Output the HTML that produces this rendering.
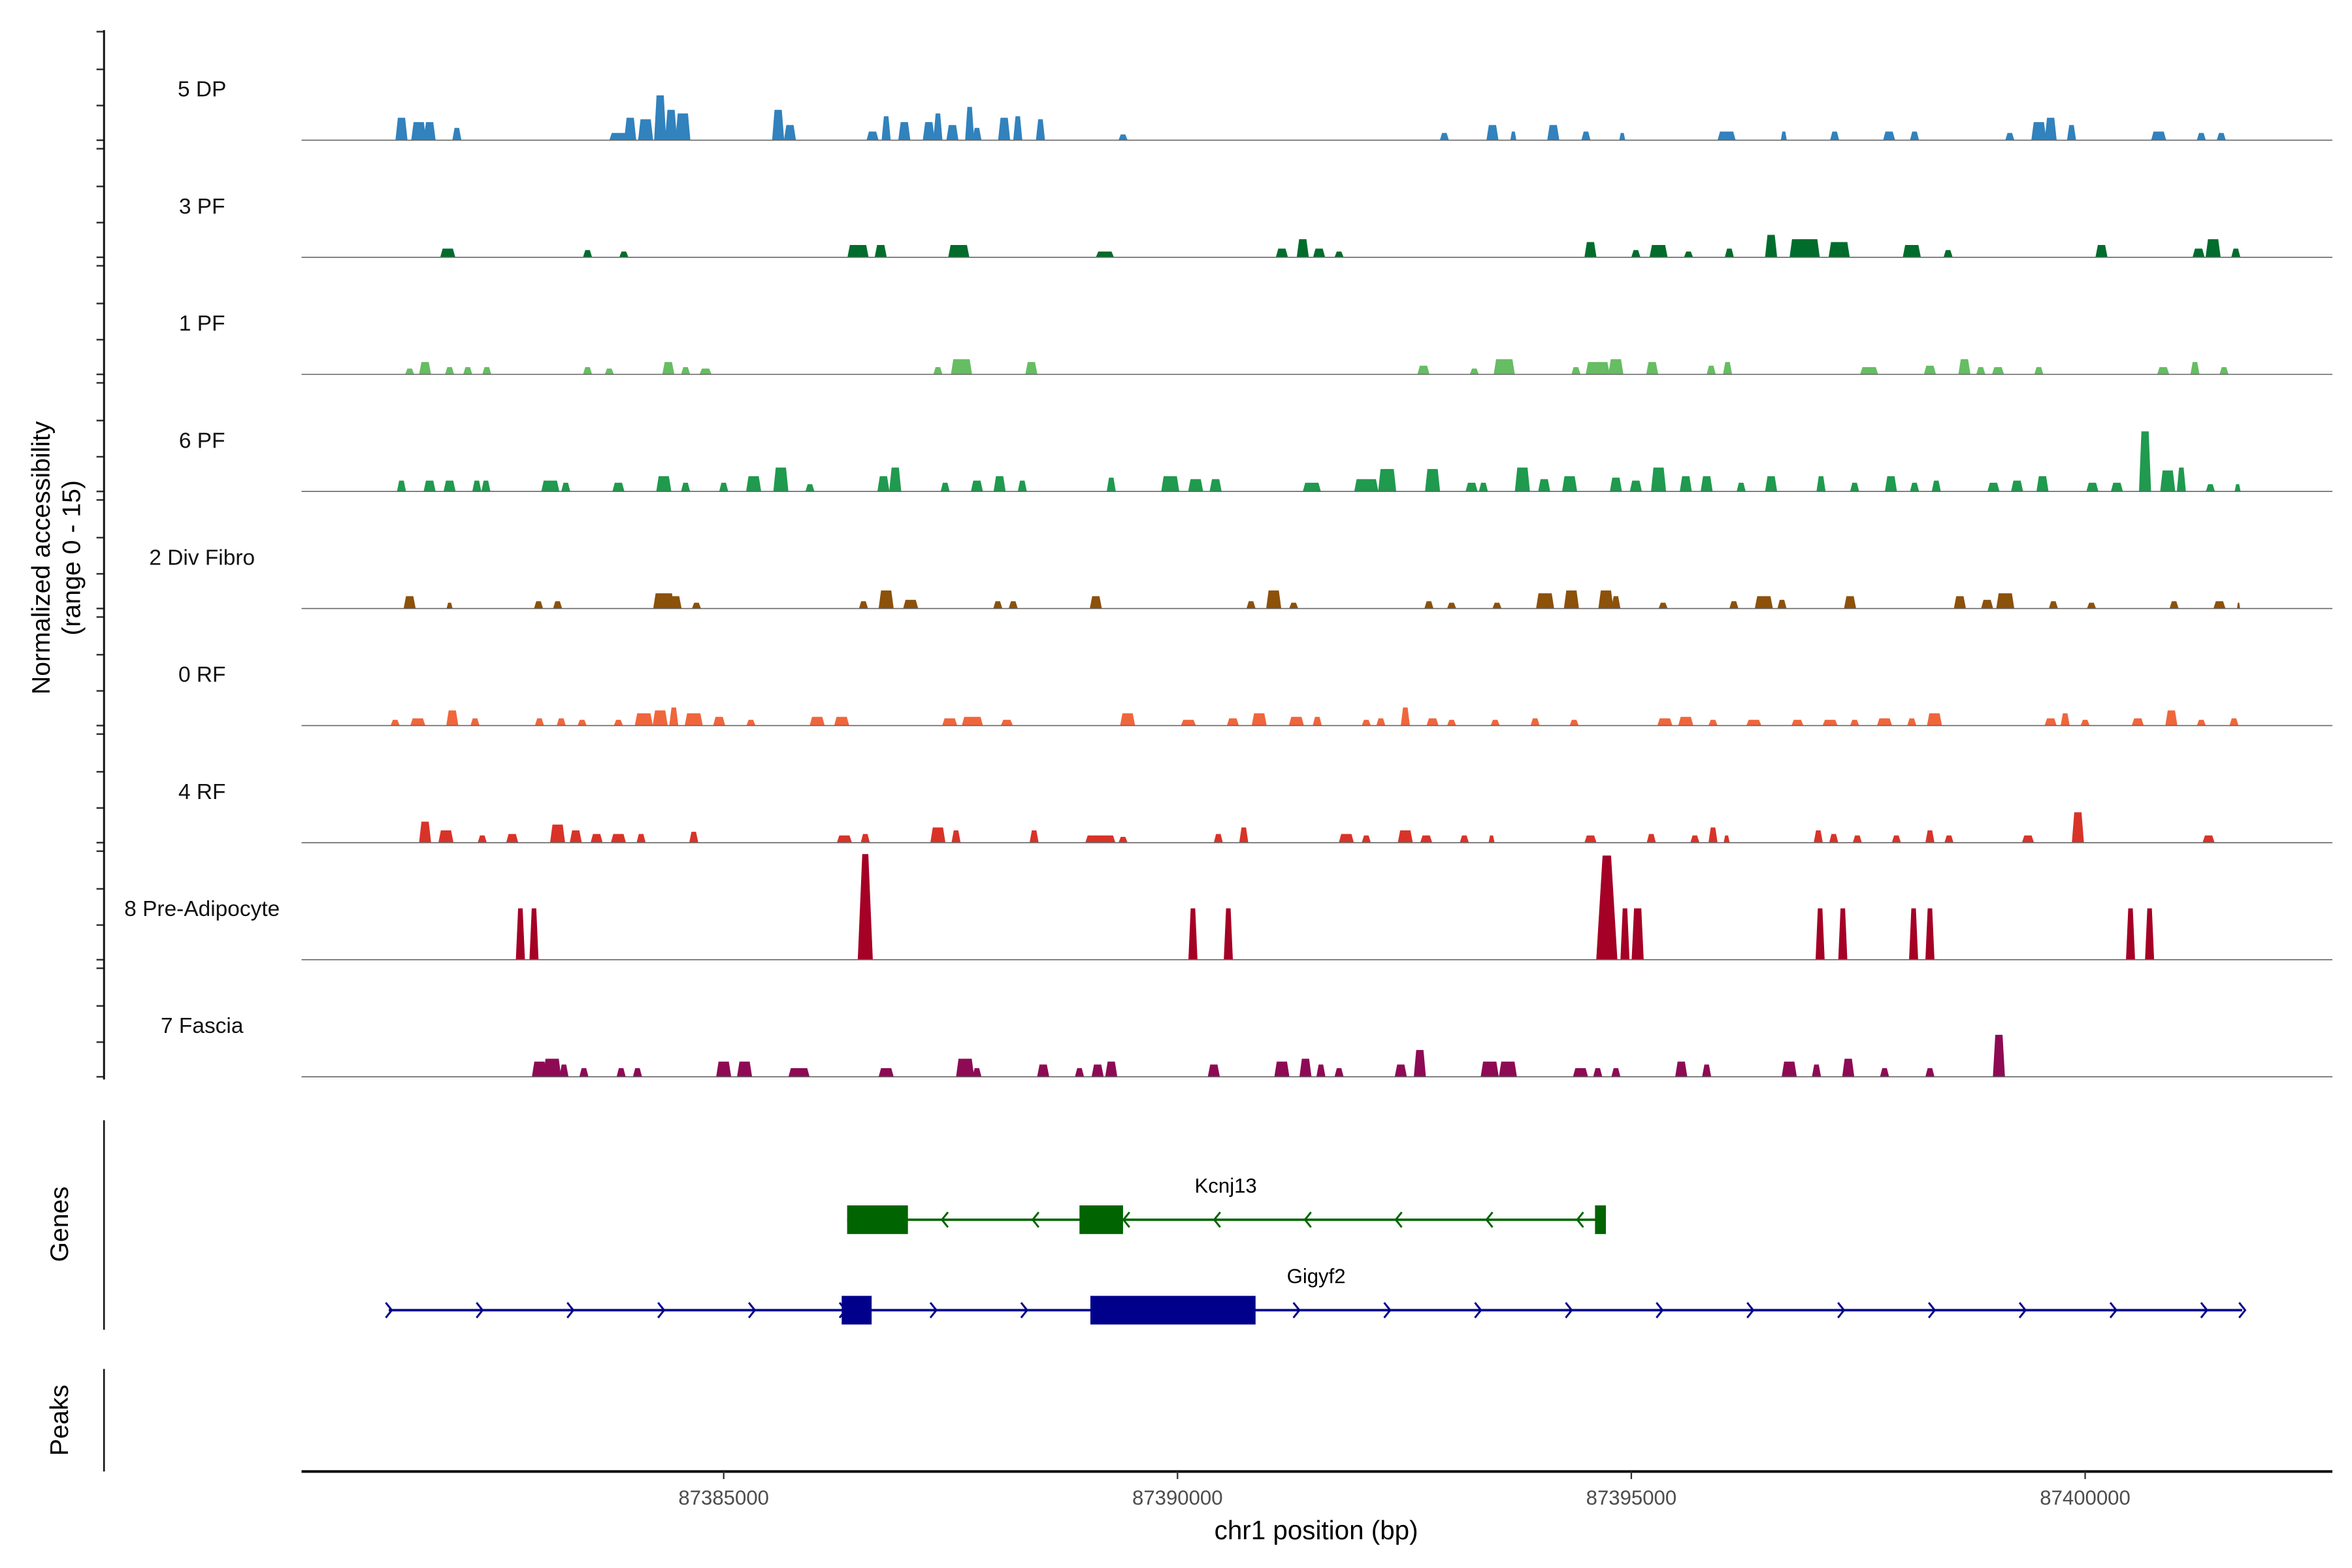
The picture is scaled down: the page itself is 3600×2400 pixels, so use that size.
<!DOCTYPE html>
<html><head><meta charset="utf-8"><style>
html,body{margin:0;padding:0;background:#fff;}
svg{display:block;font-family:"Liberation Sans",Arial,sans-serif;}
</style></head><body>
<svg id="chart" width="3600" height="2400" viewBox="0 0 1560 1040" xmlns="http://www.w3.org/2000/svg">
<g id="tracks"></g>
<g id="genes"></g>
<g id="axes"></g>
</svg>
<script>
// positions: kb offset from 87380000; widths: bp; heights: normalized accessibility (0-15)
const ORIGIN_BP = 87380000;
const trackNames = ["5 DP","3 PF","1 PF","6 PF","2 Div Fibro","0 RF","4 RF","8 Pre-Adipocyte","7 Fascia"];
const trackColors = ["#3182bd","#006d2c","#66bd63","#1f9a4e","#8c510a","#f0663c","#d93328","#a50026","#8e0a55"];

const dpPos = [1.45,1.64,1.76,2.06,3.84,3.97,4.14,4.30,4.42,4.55,5.60,5.73,6.64,6.79,6.99,7.26,7.36,7.52,7.71,7.79,8.09,8.24,8.49,9.40,12.94,13.47,13.70,14.14,14.50,14.90,16.05,16.68,17.24,17.84,18.12,19.17,19.49,19.62,19.85,20.81,21.28,21.50];
const dpWid = [133,166,133,100,199,133,166,133,133,166,133,133,133,100,133,133,100,133,100,100,133,100,100,100,100,133,66,133,100,66,199,66,100,133,100,100,166,133,100,166,100,100];
const dpVal = [3.1,2.5,2.5,1.7,1,3.1,2.9,6.2,4.2,3.7,4.2,2.1,1.2,3.3,2.5,2.5,3.7,2.1,4.6,1.7,3.1,3.3,2.9,0.8,1,2.1,1.2,2.1,1.2,1,1.2,1.2,1.2,1.2,1.2,1,2.5,3.1,2.1,1.2,1,1];

const pf3Pos = [1.96,3.50,3.90,6.48,6.73,7.59,9.20,11.15,11.38,11.56,11.78,14.55,15.05,15.30,15.63,16.08,16.54,16.91,17.29,18.09,18.49,20.18,21.25,21.41,21.66];
const pf3Wid = [166,100,100,233,133,233,199,133,133,133,100,133,100,199,100,100,133,332,233,199,100,133,133,166,100];
const pf3Val = [1.2,1,0.8,1.7,1.7,1.7,0.8,1.2,2.5,1.2,0.8,2.1,1,1.7,0.8,1.2,3.1,2.5,2.1,1.7,1,1.7,1.2,2.5,1.2];

const pf1Pos = [1.54,1.71,1.98,2.18,2.39,3.50,3.74,4.39,4.58,4.80,7.36,7.62,8.39,12.71,13.27,13.60,14.39,14.63,14.83,15.23,15.88,16.06,17.62,18.29,18.67,18.85,19.04,19.49,20.86,21.21,21.53];
const pf1Wid = [100,133,100,100,100,100,100,133,100,133,100,233,133,133,100,233,100,266,166,133,100,100,199,133,133,100,133,100,133,100,100];
const pf1Val = [0.8,1.7,1,1,1,1,0.8,1.7,1,0.8,1,2.1,1.7,1.2,0.8,2.1,1,1.7,2.1,1.7,1.2,1.7,1,1.2,2.1,1,1,1,1,1.7,1];

const pf6Pos = [1.45,1.76,1.98,2.28,2.38,3.09,3.26,3.84,4.34,4.58,5.00,5.33,5.63,5.95,6.76,6.89,7.44,7.79,8.04,8.29,9.27,9.92,10.20,10.42,11.48,12.08,12.31,12.81,13.24,13.37,13.80,14.04,14.32,14.83,15.05,15.30,15.60,15.83,16.21,16.54,17.09,17.46,17.86,18.12,18.36,18.99,19.25,19.53,20.08,20.35,20.66,20.91,21.06,21.38,21.68];
const pf6Wid = [100,133,133,100,100,199,100,133,166,100,100,166,166,100,133,133,100,133,133,100,100,199,166,133,199,266,199,166,133,100,166,133,166,133,133,166,133,133,100,133,100,100,133,100,100,133,133,133,133,133,133,166,100,100,66];
const pf6Val = [1.5,1.5,1.5,1.5,1.5,1.5,1.2,1.2,2.1,1.2,1.2,2.1,3.3,1,2.1,3.3,1.2,1.5,2.1,1.5,1.9,2.1,1.7,1.7,1.2,1.7,3.1,3.1,1.2,1.2,3.3,1.7,2.1,1.9,1.5,3.3,2.1,2.1,1.2,2.1,2.1,1.2,2.1,1.2,1.5,1.2,1.5,2.1,1.2,1.2,8.3,2.9,3.3,1,1];

const dfPos = [1.54,1.98,2.96,3.17,4.34,4.47,4.70,6.54,6.79,7.06,8.02,8.19,9.10,10.81,11.06,11.28,12.77,13.02,13.52,14.05,14.34,14.72,14.83,15.35,16.13,16.46,16.66,17.41,18.62,18.92,19.12,19.65,20.07,20.98,21.48,21.69];
const dfWid = [133,66,100,100,233,133,100,100,166,166,100,100,133,100,166,100,100,100,100,199,166,166,100,100,100,199,100,133,133,133,199,100,100,100,133,33];
const dfVal = [1.7,0.8,1,1,2.1,1.7,0.8,1,2.5,1.2,1,1,1.7,1,2.5,0.8,1,0.8,0.8,2.1,2.5,2.5,1.7,0.8,1,1.7,1.2,1.7,1.7,1.2,2.1,1,0.8,1,1,0.8];

const rf0Pos = [1.38,1.63,2.01,2.26,2.97,3.21,3.44,3.84,4.12,4.30,4.45,4.67,4.95,5.30,6.03,6.30,7.49,7.74,8.12,9.45,10.12,10.61,10.90,11.31,11.54,12.08,12.24,12.51,12.81,13.02,13.50,13.94,14.37,15.37,15.60,15.90,16.35,16.83,17.19,17.46,17.79,18.09,18.34,19.62,19.78,20.00,20.58,20.95,21.28,21.64];
const rf0Wid = [100,166,133,100,100,100,100,100,199,166,100,199,133,100,166,166,166,233,133,166,166,133,166,166,100,100,100,100,133,100,100,100,100,166,166,100,166,133,166,100,166,100,166,133,100,100,133,133,100,100];
const rf0Val = [0.8,1,2.1,1,1,1,0.8,0.8,1.7,2.1,2.5,1.7,1.2,0.8,1.2,1.2,1,1.2,0.8,1.7,0.8,1,1.7,1.2,1.2,0.8,1,2.5,1,0.8,0.8,1,0.8,1,1.2,0.8,0.8,0.8,0.8,0.8,1,1,1.7,1,1.7,0.8,1,2.1,0.8,1];

const rf4Pos = [1.71,1.94,2.34,2.67,3.17,3.37,3.60,3.84,4.09,4.67,6.33,6.56,7.36,7.56,8.42,9.15,9.40,10.45,10.73,11.86,12.08,12.51,12.74,13.16,13.46,14.55,15.22,15.70,15.90,16.05,17.06,17.23,17.49,17.92,18.29,18.50,19.37,19.92,21.36];
const rf4Wid = [133,166,100,133,166,133,133,166,100,100,166,100,166,100,100,332,100,100,100,166,100,166,133,100,66,133,100,100,100,66,100,100,100,100,100,100,133,133,133];
const rf4Val = [2.9,1.7,1,1.2,2.5,1.7,1.2,1.2,1.2,1.5,1,1.2,2.1,1.7,1.7,1,0.8,1.2,2.1,1.2,1,1.7,1,1,1,1,1.2,1,2.1,1,1.7,1.2,1,1,1.7,1,1,4.2,1];

const paPos = [2.76,2.91,6.56,10.17,10.56,14.73,14.93,15.07,17.08,17.33,18.11,18.29,20.50,20.71];
const paWid = [100,100,166,100,100,233,100,133,100,100,100,100,100,100];
const paVal = [7.1,7.1,14.6,7.1,7.1,14.4,7.1,7.1,7.1,7.1,7.1,7.1,7.1,7.1];

const faPos = [2.97,3.11,3.24,3.46,3.87,4.05,5.00,5.23,5.83,6.79,7.66,7.79,8.52,8.92,9.12,9.27,10.40,11.15,11.41,11.58,11.78,12.46,12.67,13.44,13.64,14.44,14.63,14.83,15.55,15.83,16.74,17.04,17.39,17.79,18.29,19.05];
const faWid = [166,199,100,100,100,100,166,166,233,166,199,100,133,100,133,133,133,166,133,100,100,133,133,199,199,166,100,100,133,100,166,100,133,100,100,133];
const faVal = [2.1,2.5,1.7,1.2,1.2,1.2,2.1,2.1,1.2,1.2,2.5,1.2,1.7,1.2,1.7,2.1,1.7,2.1,2.5,1.7,1.2,1.7,3.7,2.1,2.1,1.2,1.2,1.2,2.1,1.7,2.1,1.7,2.5,1.2,1.2,5.8];

const trackPos = [dpPos,pf3Pos,pf1Pos,pf6Pos,dfPos,rf0Pos,rf4Pos,paPos,faPos];
const trackWid = [dpWid,pf3Wid,pf1Wid,pf6Wid,dfWid,rf0Wid,rf4Wid,paWid,faWid];
const trackVal = [dpVal,pf3Val,pf1Val,pf6Val,dfVal,rf0Val,rf4Val,paVal,faVal];

const xTicks = [87385000,87390000,87395000,87400000];
const geneNames = ["Kcnj13","Gigyf2"];
const geneStart = [6.36,1.31];
const geneEnd = [14.72,21.73];
const geneStrand = [-1,1];
const geneExonStart = [[6.36,8.92,14.60],[6.30,9.04]];
const geneExonEnd = [[7.03,9.40,14.72],[6.63,10.86]];
const geneColors = ["#006400","#00008b"];

const NS = "http://www.w3.org/2000/svg";
function mk(tag, attrs, parent){const e=document.createElementNS(NS,tag);for(const k in attrs)e.setAttribute(k,attrs[k]);parent.appendChild(e);return e;}
function xScale(bp){return 480 + (bp-87385000)/5000*301;}
function xKb(kb){return xScale(ORIGIN_BP + kb*1000);}
const TRACK_TOP = 21, TRACK_STEP = 77.65, TRACK_H = 72, VMAX = 15;
function yVal(v, base){return base - v/VMAX*TRACK_H;}

const tracks = document.getElementById('tracks');
const axes = document.getElementById('axes');
const genes = document.getElementById('genes');

trackNames.forEach((name,i)=>{
  const base = TRACK_TOP + TRACK_H + i*TRACK_STEP;
  const g = mk('g',{},tracks);
  
  
  const lab = mk('text',{x:134,y:base-29,'font-size':14.5,'text-anchor':'middle',fill:'#111'},g);
  lab.textContent = name;
  
  
  trackPos[i].forEach((p,j)=>{
    const w = trackWid[i][j]/1000;
    const x0 = xKb(p - w/2), x1 = xKb(p + w/2);
    const y = yVal(trackVal[i][j], base);
    const pw = x1-x0;
    const s = (i===7 && trackVal[i][j]>10) ? pw*0.3 : Math.min(pw*0.25, 1.6);
    const poly = mk('polygon',{points:`${x0},${base} ${x0+s},${y} ${x1-s},${y} ${x1},${base}`,fill:trackColors[i]},g);
    
    
  });
  const bl = mk('line',{x1:200,x2:1547,y1:base,y2:base,stroke:'#666','stroke-width':0.7},g);
  
  
  [-72,-47,-23,0].forEach(o=>{
    const t = mk('line',{x1:64,x2:69,y1:base+o,y2:base+o,stroke:'#333','stroke-width':1.1},axes);
    
    
  });
});

// y axis
const ya = mk('line',{x1:69,x2:69,y1:20,y2:716,stroke:'#111','stroke-width':1.3},axes);


const yt = mk('text',{transform:'translate(36,370) rotate(-90)','font-size':17,'text-anchor':'middle',fill:'#000'},axes);


const t1 = mk('tspan',{x:0,dy:-3},yt); t1.textContent='Normalized accessibility';
const t2 = mk('tspan',{x:0,dy:20},yt); t2.textContent='(range 0 - 15)';

// genes / peaks panel axes
const gl = mk('line',{x1:69,x2:69,y1:743,y2:882,stroke:'#111','stroke-width':1.1},axes);


const gt = mk('text',{transform:'translate(45,812) rotate(-90)','font-size':17,'text-anchor':'middle'},axes);
gt.textContent='Genes';


const pl = mk('line',{x1:69,x2:69,y1:908,y2:976,stroke:'#111','stroke-width':1.1},axes);


const pt = mk('text',{transform:'translate(45,942) rotate(-90)','font-size':17,'text-anchor':'middle'},axes);
pt.textContent='Peaks';



// genes
const geneY = [809,869];
geneNames.forEach((n,i)=>{
  const g = mk('g',{},genes);
  
  
  const c = geneColors[i], y = geneY[i];
  const xs = xKb(geneStart[i]), xe = xKb(geneEnd[i]);
  mk('line',{x1:xs,x2:xe,y1:y,y2:y,stroke:c,'stroke-width':1.6},g);
  const step = 60.2;
  if (geneStrand[i] > 0) {
    for (let x = xs; x <= xe+0.5; x += step) mk('path',{d:`M${x-2},${y-5} L${x+2},${y} L${x-2},${y+5}`,stroke:c,fill:'none','stroke-width':1.3},g);
    mk('path',{d:`M${xe-2},${y-5} L${xe+2},${y} L${xe-2},${y+5}`,stroke:c,fill:'none','stroke-width':1.3},g);
  } else {
    for (let x = xe-17; x >= xs; x -= step) mk('path',{d:`M${x+2},${y-5} L${x-2},${y} L${x+2},${y+5}`,stroke:c,fill:'none','stroke-width':1.3},g);
  }
  geneExonStart[i].forEach((s,j)=>{
    const r = mk('rect',{x:xKb(s),y:y-9.5,width:xKb(geneExonEnd[i][j])-xKb(s),height:19,fill:c},g);
    
    
  });
  const lb = mk('text',{x:(xs+xe)/2 + (i===0?0:0),y:y-18,'font-size':13.5,'text-anchor':'middle',fill:'#000'},g);
  lb.setAttribute('x', i===0 ? 813 : 873);
  lb.textContent = n;
  
  
});

// x axis
const xa = mk('line',{x1:200,x2:1547,y1:976,y2:976,stroke:'#111','stroke-width':1.8},axes);


xTicks.forEach(t=>{
  const x = xScale(t);
  const tk = mk('line',{x1:x,x2:x,y1:976,y2:981,stroke:'#333','stroke-width':1},axes);
  
  
  const tl = mk('text',{x:x,y:998,'font-size':13.5,'text-anchor':'middle',fill:'#4d4d4d'},axes);
  tl.textContent = String(t);
  
  
});
const xt = mk('text',{x:873,y:1021,'font-size':17.5,'text-anchor':'middle',fill:'#000'},axes);
xt.textContent = 'chr1 position (bp)';


</script>
</body></html>
